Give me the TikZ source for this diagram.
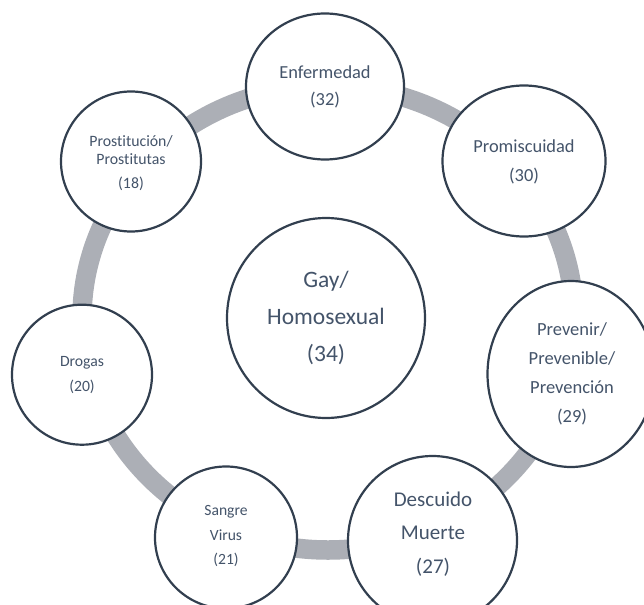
\documentclass[tikz,border=0pt]{standalone}
\usepackage{fontspec}
\setmainfont{Carlito}[Ligatures=NoCommon]
\usetikzlibrary{shapes.geometric}
\definecolor{ringgray}{RGB}{172,175,182}
\definecolor{bubline}{RGB}{50,63,79}
\definecolor{txtc}{RGB}{68,84,106}
\begin{document}
\begin{tikzpicture}[x=1pt,y=-1pt,
  bub/.style={ellipse, draw=bubline, line width=2.2pt, fill=white, inner sep=0pt},
  lbl/.style={text=txtc, align=center, inner sep=0pt},
  ringline/.style={draw=ringgray, line width=19.5pt}]
\useasboundingbox (0,0) rectangle (644,604);
\coordinate (rc) at (328,318);
\draw[ringline] (rc) ellipse [x radius=246pt, y radius=232pt];

\node[bub, minimum width=198pt, minimum height=200pt] (gay) at (326,318) {};
\node[lbl, font=\fontsize{23.5}{37}\selectfont] (gayt) at (326,318) {Gay/\\Homosexual\\(34)};

\node[bub, minimum width=158pt, minimum height=146pt] (enf) at (325,86.5) {};
\node[lbl, font=\fontsize{18.4}{27}\selectfont] (enft) at (325,87) {Enfermedad\\(32)};

\node[bub, minimum width=163pt, minimum height=151pt] (pro) at (524,161) {};
\node[lbl, font=\fontsize{18.4}{29}\selectfont] (prot) at (524,162) {Promiscuidad\\(30)};

\node[bub, minimum width=167pt, minimum height=186pt] (prev) at (571,374) {};
\node[lbl, font=\fontsize{18.5}{29}\selectfont] (prevt) at (572,374) {Prevenir/\\Prevenible/\\Prevención\\(29)};

\node[bub, minimum width=169pt, minimum height=169pt] (desc) at (432.5,540.5) {};
\node[lbl, font=\fontsize{21}{33.5}\selectfont] (desct) at (433,534) {Descuido\\Muerte\\(27)};

\node[bub, minimum width=142pt, minimum height=142pt] (sang) at (226,537.5) {};
\node[lbl, font=\fontsize{15.6}{24.5}\selectfont] (sangt) at (226,536.5) {Sangre\\Virus\\(21)};

\node[bub, minimum width=140pt, minimum height=140pt] (drog) at (82,374.7) {};
\node[lbl, font=\fontsize{15.7}{25}\selectfont] (drogt) at (82,375) {Drogas\\(20)};

\node[bub, minimum width=140pt, minimum height=140pt] (prost) at (131,161.5) {};
\node[lbl, font=\fontsize{15.8}{18.5}\selectfont] (prostt) at (131,163) {Prostitución/\\Prostitutas\\[5.5pt](18)};
\end{tikzpicture}
\end{document}
